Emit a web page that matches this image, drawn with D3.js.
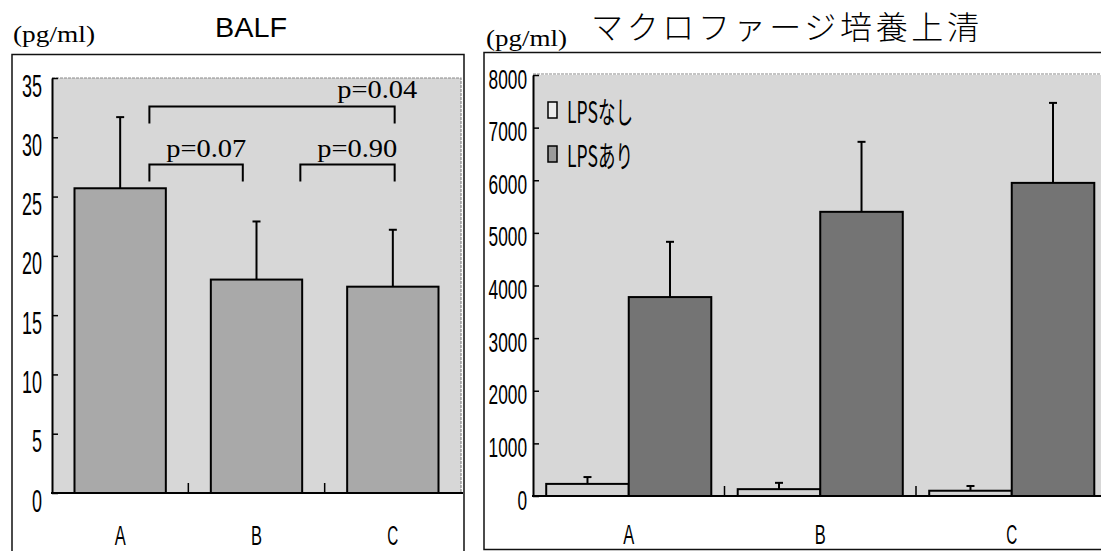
<!DOCTYPE html>
<html>
<head>
<meta charset="utf-8">
<script src="https://cdn.jsdelivr.net/npm/d3@7"></script>
<style>
  body { margin: 0; background: #fff; }
  svg { display: block; }
</style>
</head>
<body>
<svg id="chart" width="1101" height="551"></svg>
<script>
// ---- data ----
const categories = ["A", "B", "C"];

// BALF concentration (pg/ml), mean and SD per group
const balfMean = [25.7, 18.0, 17.4];
const balfSD = [6.0, 4.9, 4.8];
const balfTicks = [0, 5, 10, 15, 20, 25, 30, 35];
const balfTests = [
  { label: "p=0.04", from: "A", to: "C", level: 32.6 },
  { label: "p=0.07", from: "A", to: "B", level: 27.7 },
  { label: "p=0.90", from: "B", to: "C", level: 27.7 }
];

// macrophage culture supernatant (pg/ml)
const seriesNames = ["LPSなし", "LPSあり"];
const lpsNoneMean = [230, 130, 100];
const lpsNoneSD = [130, 120, 90];
const lpsMean = [3780, 5400, 5950];
const lpsSD = [1050, 1330, 1520];
const macroTicks = [0, 1000, 2000, 3000, 4000, 5000, 6000, 7000, 8000];

// ---- styling ----
const plotBg = "#d7d7d7";
const balfFill = "#a9a9a9";
const noneFill = "#d2d2d2";
const lpsFill = "#747474";
const numFont = "'Liberation Sans', Arial, sans-serif";
const serifFont = "'Liberation Serif', 'Times New Roman', serif";
const cjkFont = "'Noto Sans CJK JP', 'Noto Sans', sans-serif";

const svg = d3.select("#chart");

// narrow, tall digits: squeeze each label to a fixed width per character
function squeeze(sel, perChar) {
  sel.attr("lengthAdjust", "spacingAndGlyphs")
     .attr("textLength", function () { return this.textContent.length * perChar; });
}

function errorBar(g, x, yTop, yBase, cap) {
  g.append("line").attr("x1", x).attr("x2", x).attr("y1", yBase).attr("y2", yTop)
    .attr("stroke", "#000").attr("stroke-width", 2);
  g.append("line").attr("x1", x - cap / 2).attr("x2", x + cap / 2).attr("y1", yTop).attr("y2", yTop)
    .attr("stroke", "#000").attr("stroke-width", 2);
}

// =================== left panel: BALF ===================
{
  const P = { left: 52, right: 461, top: 78, bottom: 493 };
  const g = svg.append("g");

  // outer frame
  g.append("path")
    .attr("d", `M12,560 V54.5 H464 V560`)
    .attr("fill", "none").attr("stroke", "#111").attr("stroke-width", 1.5);

  // plot background
  g.append("rect").attr("x", P.left).attr("y", P.top)
    .attr("width", P.right - P.left).attr("height", P.bottom - P.top)
    .attr("fill", plotBg);
  g.append("path")
    .attr("d", `M${P.left},${P.top} H${P.right} V${P.bottom}`)
    .attr("fill", "none").attr("stroke", "#8a8a8a").attr("stroke-width", 1.2)
    .attr("stroke-dasharray", "3,1");

  const y = d3.scaleLinear().domain([0, 35]).range([P.bottom, P.top]);
  const x = d3.scaleBand().domain(categories).range([P.left, P.right])
    .paddingInner(0.33).paddingOuter(0.165);

  // bars
  const bw = x.bandwidth();
  categories.forEach((c, i) => {
    errorBar(g, x(c) + bw / 2, y(balfMean[i] + balfSD[i]), y(balfMean[i]), 8);
    g.append("rect")
      .attr("x", x(c)).attr("y", y(balfMean[i]))
      .attr("width", bw).attr("height", y(0) - y(balfMean[i]))
      .attr("fill", balfFill).attr("stroke", "#000").attr("stroke-width", 2);
  });

  // y axis with inward ticks
  const ya = g.append("g").attr("transform", `translate(${P.left},0)`)
    .call(d3.axisLeft(y).tickValues(balfTicks).tickFormat(d3.format("d"))
      .tickSizeInner(-6).tickSizeOuter(0));
  ya.select(".domain").attr("stroke", "#000").attr("stroke-width", 2);
  ya.selectAll(".tick line").attr("stroke", "#000").attr("stroke-width", 1.5);
  ya.selectAll(".tick text")
    .attr("x", -10).attr("dy", null).attr("y", 18)
    .attr("font-family", numFont).attr("font-size", 32).attr("fill", "#000")
    .attr("text-anchor", "end")
    .call(squeeze, 10);

  // baseline
  g.append("line").attr("x1", P.left - 1).attr("x2", P.right + 2)
    .attr("y1", P.bottom).attr("y2", P.bottom)
    .attr("stroke", "#000").attr("stroke-width", 2);

  // small ticks between groups
  categories.slice(1).forEach(c => {
    const bx = x(c) - x.step() * x.paddingInner() / 2;
    g.append("line").attr("x1", bx).attr("x2", bx)
      .attr("y1", P.bottom).attr("y2", P.bottom - 10)
      .attr("stroke", "#000").attr("stroke-width", 1.5);
  });

  // category labels
  const xa = g.append("g").attr("transform", `translate(0,${P.bottom})`)
    .call(d3.axisBottom(x).tickSize(0));
  xa.select(".domain").remove();
  xa.selectAll(".tick text")
    .attr("y", 52).attr("dy", null)
    .attr("font-family", numFont).attr("font-size", 27).attr("fill", "#000")
    .call(squeeze, 11);

  // significance brackets
  const legs = { "p=0.04": [0.82, 0.52], "p=0.07": [0.82, 0.35], "p=0.90": [0.98, 0.52] };
  const textPos = { "p=0.04": 0.33, "p=0.07": -0.05, "p=0.90": 0.11 };
  balfTests.forEach(t => {
    const x1 = x(t.from) + bw * legs[t.label][0];
    const x2 = x(t.to) + bw * legs[t.label][1];
    const yy = y(t.level);
    g.append("path")
      .attr("d", `M${x1},${yy + 17} V${yy} H${x2} V${yy + 17}`)
      .attr("fill", "none").attr("stroke", "#000").attr("stroke-width", 2);
    g.append("text")
      .attr("x", x(t.to) + bw * textPos[t.label]).attr("y", yy - 8)
      .attr("text-anchor", "middle")
      .attr("font-family", serifFont).attr("font-size", 26).attr("fill", "#000")
      .attr("textLength", 80).attr("lengthAdjust", "spacingAndGlyphs")
      .text(t.label);
  });

  // unit and title
  g.append("text").attr("x", 13).attr("y", 42)
    .attr("font-family", serifFont).attr("font-size", 24)
    .attr("textLength", 82).attr("lengthAdjust", "spacingAndGlyphs")
    .text("(pg/ml)");
  g.append("text").attr("x", 251).attr("y", 37).attr("text-anchor", "middle")
    .attr("font-family", numFont).attr("font-size", 27)
    .attr("textLength", 72).attr("lengthAdjust", "spacingAndGlyphs")
    .text("BALF");
}

// =================== right panel: macrophage supernatant ===================
{
  const P = { left: 533, right: 1107.5, top: 75, bottom: 496 };
  const g = svg.append("g");

  // outer frame (continues past the right edge)
  g.append("path")
    .attr("d", `M1110,52.5 H484 V549.5 H1110`)
    .attr("fill", "none").attr("stroke", "#111").attr("stroke-width", 1.5);

  g.append("rect").attr("x", P.left).attr("y", P.top)
    .attr("width", P.right - P.left).attr("height", P.bottom - P.top)
    .attr("fill", plotBg);
  g.append("line").attr("x1", P.left).attr("x2", P.right)
    .attr("y1", P.top - 1).attr("y2", P.top - 1)
    .attr("stroke", "#8a8a8a").attr("stroke-width", 1.2).attr("stroke-dasharray", "3,1");

  const y = d3.scaleLinear().domain([0, 8000]).range([P.bottom, P.top]);
  const x = d3.scaleBand().domain(categories).range([P.left, P.right])
    .paddingInner(0.138).paddingOuter(0.069);
  const xs = d3.scaleBand().domain(seriesNames).range([0, x.bandwidth()]);
  const sw = xs.bandwidth();

  const series = [
    { name: seriesNames[0], mean: lpsNoneMean, sd: lpsNoneSD, fill: noneFill },
    { name: seriesNames[1], mean: lpsMean, sd: lpsSD, fill: lpsFill }
  ];

  series.forEach(s => {
    categories.forEach((c, i) => {
      const bx = x(c) + xs(s.name);
      errorBar(g, bx + sw / 2, y(s.mean[i] + s.sd[i]), y(s.mean[i]), 8);
      g.append("rect")
        .attr("x", bx).attr("y", y(s.mean[i]))
        .attr("width", sw).attr("height", y(0) - y(s.mean[i]))
        .attr("fill", s.fill).attr("stroke", "#000").attr("stroke-width", 2);
    });
  });

  const ya = g.append("g").attr("transform", `translate(${P.left},0)`)
    .call(d3.axisLeft(y).tickValues(macroTicks).tickFormat(d3.format("d"))
      .tickSizeInner(-6).tickSizeOuter(0));
  ya.select(".domain").attr("stroke", "#000").attr("stroke-width", 2);
  ya.selectAll(".tick line").attr("stroke", "#000").attr("stroke-width", 1.5);
  ya.selectAll(".tick text")
    .attr("x", -6).attr("dy", null).attr("y", 13)
    .attr("font-family", numFont).attr("font-size", 27).attr("fill", "#000")
    .attr("text-anchor", "end")
    .call(squeeze, 9.6);

  g.append("line").attr("x1", P.left - 1).attr("x2", P.right)
    .attr("y1", P.bottom).attr("y2", P.bottom)
    .attr("stroke", "#000").attr("stroke-width", 2);

  categories.slice(1).forEach(c => {
    const bx = x(c) - x.step() * x.paddingInner() / 2;
    g.append("line").attr("x1", bx).attr("x2", bx)
      .attr("y1", P.bottom).attr("y2", P.bottom - 10)
      .attr("stroke", "#000").attr("stroke-width", 1.5);
  });

  const xa = g.append("g").attr("transform", `translate(0,${P.bottom})`)
    .call(d3.axisBottom(x).tickSize(0));
  xa.select(".domain").remove();
  xa.selectAll(".tick text")
    .attr("y", 48).attr("dy", null)
    .attr("font-family", numFont).attr("font-size", 27).attr("fill", "#000")
    .call(squeeze, 11);

  // legend
  const lg = g.append("g");
  series.forEach((s, i) => {
    const ly = 102 + i * 44;
    lg.append("rect").attr("x", 548).attr("y", ly).attr("width", 9).attr("height", 16)
      .attr("fill", i === 0 ? "#ececec" : "#9a9a9a").attr("stroke", "#000").attr("stroke-width", 1.5);
    lg.append("text").attr("x", 567).attr("y", ly + 21)
      .attr("font-family", cjkFont).attr("font-size", 30).attr("fill", "#000")
      .attr("textLength", 66).attr("lengthAdjust", "spacingAndGlyphs")
      .text(s.name);
  });

  // unit and title
  g.append("text").attr("x", 486).attr("y", 46)
    .attr("font-family", serifFont).attr("font-size", 24)
    .attr("textLength", 81).attr("lengthAdjust", "spacingAndGlyphs")
    .text("(pg/ml)");
  g.append("text").attr("x", 591).attr("y", 39)
    .attr("font-family", cjkFont).attr("font-size", 32).attr("font-weight", 300)
    .attr("textLength", 388).attr("lengthAdjust", "spacing")
    .text("マクロファージ培養上清");
}
</script>
</body>
</html>
